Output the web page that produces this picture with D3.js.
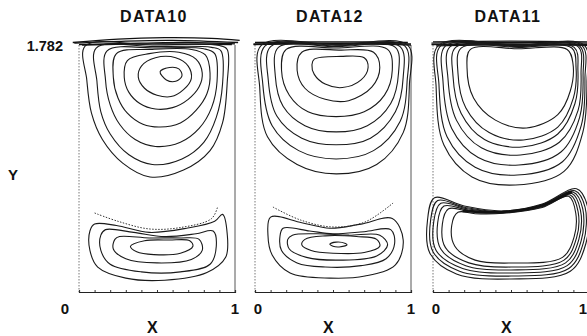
<!DOCTYPE html>
<html>
<head>
<meta charset="utf-8">
<script src="https://cdn.jsdelivr.net/npm/d3@7"></script>
<style>
  body { margin: 0; background: #fff; }
  text { font-family: "Liberation Sans", Arial, sans-serif; fill: #111; }
</style>
</head>
<body>
<svg id="chart" width="587" height="336"></svg>
<script>
// panel titles and axis labels
var titles = ["DATA10", "DATA12", "DATA11"];
var xTicks = [0, 1];
var yMax = 1.782;

// DATA10: upper vortex contours (inner -> outer)
var data10Upper = [
  [[0.52,1.59],[0.56,1.53],[0.62,1.52],[0.66,1.56],[0.64,1.61],[0.58,1.62]],
  [[0.40,1.63],[0.38,1.55],[0.42,1.47],[0.50,1.42],[0.59,1.41],[0.67,1.46],[0.72,1.54],[0.70,1.63],[0.62,1.69],[0.49,1.69]],
  [[0.31,1.67],[0.29,1.55],[0.32,1.44],[0.39,1.36],[0.49,1.32],[0.60,1.33],[0.70,1.39],[0.77,1.48],[0.79,1.58],[0.75,1.68],[0.64,1.73],[0.45,1.72]],
  [[0.24,1.72],[0.22,1.55],[0.25,1.40],[0.31,1.29],[0.41,1.21],[0.52,1.19],[0.65,1.22],[0.75,1.31],[0.82,1.43],[0.84,1.58],[0.81,1.71],[0.72,1.75],[0.47,1.75]],
  [[0.18,1.74],[0.17,1.53],[0.20,1.35],[0.26,1.21],[0.36,1.10],[0.49,1.05],[0.65,1.08],[0.77,1.18],[0.85,1.33],[0.885,1.52],[0.87,1.72],[0.80,1.755],[0.50,1.76]],
  [[0.11,1.76],[0.115,1.52],[0.14,1.30],[0.20,1.14],[0.32,0.99],[0.47,0.92],[0.66,0.96],[0.80,1.08],[0.88,1.26],[0.92,1.50],[0.91,1.74],[0.85,1.765],[0.48,1.77]],
  [[0.04,1.775],[0.05,1.53],[0.08,1.29],[0.15,1.10],[0.28,0.93],[0.455,0.83],[0.67,0.88],[0.84,1.02],[0.92,1.22],[0.95,1.51],[0.95,1.75],[0.90,1.778],[0.47,1.782]]
];
// DATA10: lower vortex contours (outer -> inner)
var data10Lower = [
  [[0.10,0.49],[0.24,0.48],[0.45,0.43],[0.69,0.46],[0.87,0.51],[0.92,0.56],[0.95,0.42],[0.94,0.25],[0.82,0.14],[0.55,0.085],[0.30,0.10],[0.12,0.18],[0.07,0.30],[0.07,0.44]],
  [[0.17,0.45],[0.35,0.43],[0.55,0.40],[0.75,0.42],[0.86,0.44],[0.88,0.33],[0.84,0.20],[0.65,0.145],[0.40,0.145],[0.20,0.20],[0.14,0.30],[0.14,0.41]],
  [[0.26,0.40],[0.45,0.39],[0.65,0.39],[0.77,0.38],[0.79,0.30],[0.72,0.235],[0.50,0.21],[0.30,0.24],[0.22,0.31],[0.23,0.38]],
  [[0.33,0.33],[0.42,0.37],[0.58,0.375],[0.71,0.37],[0.73,0.33],[0.65,0.28],[0.48,0.27],[0.37,0.29]]
];
var data10Dotted = [[0.10,0.57],[0.25,0.51],[0.45,0.455],[0.65,0.465],[0.85,0.53],[0.89,0.62]];
var data10Lid = [
  [[-0.04,1.80],[0.25,1.825],[0.55,1.835],[0.85,1.83],[1.03,1.815]],
  [[-0.03,1.795],[0.30,1.81],[0.60,1.815],[1.02,1.80]],
  [[0.00,1.785],[0.40,1.795],[0.70,1.80],[1.00,1.79]],
  [[0.02,1.782],[0.50,1.79],[0.98,1.785]]
];

// DATA12: upper vortex contours (inner -> outer)
var data12Upper = [
  [[0.38,1.68],[0.55,1.70],[0.70,1.69],[0.725,1.62],[0.68,1.53],[0.56,1.475],[0.45,1.50],[0.38,1.57],[0.365,1.64]],
  [[0.30,1.73],[0.55,1.745],[0.76,1.73],[0.80,1.62],[0.75,1.48],[0.60,1.38],[0.45,1.39],[0.32,1.47],[0.27,1.60]],
  [[0.20,1.75],[0.52,1.76],[0.85,1.75],[0.88,1.60],[0.83,1.42],[0.70,1.30],[0.52,1.265],[0.34,1.30],[0.22,1.42],[0.17,1.60]],
  [[0.15,1.765],[0.52,1.77],[0.90,1.765],[0.92,1.58],[0.87,1.36],[0.72,1.20],[0.52,1.155],[0.32,1.20],[0.18,1.34],[0.13,1.56]],
  [[0.10,1.77],[0.52,1.775],[0.93,1.77],[0.95,1.55],[0.90,1.30],[0.74,1.11],[0.52,1.062],[0.30,1.11],[0.14,1.27],[0.085,1.53]],
  [[0.065,1.775],[0.52,1.78],[0.96,1.775],[0.975,1.52],[0.93,1.23],[0.76,1.02],[0.52,0.96],[0.28,1.02],[0.11,1.20],[0.05,1.50]],
  [[0.04,1.78],[0.52,1.785],[0.98,1.78],[0.99,1.50],[0.95,1.15],[0.78,0.92],[0.52,0.852],[0.27,0.92],[0.08,1.12],[0.03,1.48]]
];
// DATA12: lower vortex contours (outer -> inner)
var data12Lower = [
  [[0.10,0.54],[0.30,0.50],[0.48,0.46],[0.68,0.49],[0.88,0.53],[0.95,0.375],[0.90,0.195],[0.705,0.115],[0.48,0.10],[0.225,0.137],[0.11,0.267],[0.083,0.411]],
  [[0.18,0.46],[0.35,0.44],[0.50,0.42],[0.70,0.435],[0.87,0.45],[0.895,0.35],[0.84,0.24],[0.68,0.19],[0.45,0.18],[0.27,0.21],[0.17,0.30],[0.16,0.40]],
  [[0.24,0.41],[0.40,0.42],[0.60,0.41],[0.80,0.41],[0.85,0.34],[0.78,0.26],[0.55,0.23],[0.33,0.25],[0.22,0.31],[0.21,0.38]],
  [[0.32,0.38],[0.45,0.405],[0.65,0.40],[0.78,0.38],[0.80,0.33],[0.70,0.285],[0.50,0.28],[0.36,0.30],[0.30,0.34]],
  [[0.48,0.345],[0.52,0.36],[0.58,0.35],[0.59,0.34],[0.54,0.325],[0.50,0.33]]
];
var data12Dotted = [[0.115,0.613],[0.29,0.52],[0.50,0.469],[0.705,0.505],[0.885,0.642]];
var data12Lid = [
  [[-0.01,1.79],[0.50,1.795],[1.00,1.79]],
  [[0.00,1.80],[0.50,1.805],[0.98,1.80]],
  [[-0.01,1.785],[0.30,1.79],[0.70,1.79],[1.00,1.782]]
];

// DATA11: upper vortex contours (inner -> outer)
var data11Upper = [
  [[0.24,1.75],[0.55,1.755],[0.86,1.75],[0.897,1.65],[0.88,1.45],[0.80,1.28],[0.60,1.183],[0.40,1.24],[0.26,1.40],[0.218,1.62]],
  [[0.18,1.76],[0.55,1.765],[0.89,1.76],[0.917,1.62],[0.90,1.40],[0.80,1.19],[0.58,1.097],[0.36,1.15],[0.21,1.33],[0.16,1.58]],
  [[0.145,1.765],[0.55,1.77],[0.905,1.765],[0.929,1.60],[0.91,1.36],[0.80,1.14],[0.57,1.046],[0.33,1.10],[0.18,1.29],[0.128,1.56]],
  [[0.11,1.77],[0.55,1.773],[0.93,1.77],[0.949,1.58],[0.93,1.31],[0.81,1.08],[0.56,0.988],[0.31,1.04],[0.15,1.24],[0.096,1.54]],
  [[0.08,1.775],[0.55,1.777],[0.94,1.775],[0.962,1.56],[0.94,1.26],[0.82,1.01],[0.55,0.916],[0.29,0.97],[0.12,1.18],[0.064,1.52]],
  [[0.05,1.778],[0.55,1.78],[0.955,1.778],[0.974,1.54],[0.95,1.20],[0.83,0.94],[0.54,0.844],[0.27,0.90],[0.09,1.12],[0.038,1.50]],
  [[0.035,1.78],[0.55,1.782],[0.97,1.78],[0.987,1.52],[0.96,1.15],[0.84,0.87],[0.53,0.772],[0.25,0.83],[0.07,1.06],[0.02,1.48]]
];
// DATA11: lower vortex contours (outer -> inner)
var data11Lower = [
  [[0.01,0.68],[0.20,0.62],[0.45,0.585],[0.70,0.635],[0.92,0.745],[0.99,0.62],[0.98,0.35],[0.88,0.15],[0.50,0.094],[0.15,0.13],[-0.02,0.28],[-0.035,0.52]],
  [[0.03,0.66],[0.21,0.61],[0.45,0.58],[0.70,0.63],[0.91,0.73],[0.975,0.61],[0.965,0.36],[0.87,0.17],[0.50,0.115],[0.17,0.15],[0.00,0.29],[-0.015,0.52]],
  [[0.05,0.64],[0.22,0.60],[0.45,0.578],[0.70,0.625],[0.90,0.72],[0.96,0.60],[0.95,0.37],[0.86,0.19],[0.50,0.137],[0.19,0.17],[0.02,0.30],[0.005,0.51]],
  [[0.07,0.62],[0.23,0.59],[0.45,0.575],[0.70,0.62],[0.89,0.71],[0.945,0.59],[0.935,0.38],[0.85,0.21],[0.50,0.159],[0.21,0.19],[0.05,0.31],[0.03,0.50]],
  [[0.10,0.60],[0.24,0.58],[0.45,0.572],[0.70,0.615],[0.88,0.70],[0.93,0.58],[0.92,0.39],[0.84,0.23],[0.50,0.18],[0.23,0.21],[0.08,0.32],[0.06,0.49]],
  [[0.16,0.575],[0.27,0.565],[0.45,0.568],[0.70,0.61],[0.87,0.69],[0.915,0.57],[0.905,0.40],[0.83,0.25],[0.50,0.209],[0.27,0.23],[0.14,0.33],[0.12,0.48]]
];
var data11Band = [[0.19,0.585],[0.45,0.578],[0.70,0.625],[0.89,0.725]];
var data11Lid = [
  [[-0.01,1.785],[0.50,1.79],[1.01,1.785]],
  [[-0.01,1.795],[0.50,1.80],[1.01,1.795]],
  [[0.00,1.805],[0.50,1.81],[1.00,1.805]],
  [[0.02,1.775],[0.50,1.785],[0.99,1.78]]
];

var panels = [
  { title: titles[0], left: 79,  upper: data10Upper, lower: data10Lower, dotted: data10Dotted, lid: data10Lid, labelDx: [-14, 0] },
  { title: titles[1], left: 255, upper: data12Upper, lower: data12Lower, dotted: data12Dotted, lid: data12Lid, labelDx: [3, 0] },
  { title: titles[2], left: 433, upper: data11Upper, lower: data11Lower, band: data11Band, lid: data11Lid, labelDx: [3, -6] }
];

var panelWidth = 156, plotTop = 45, plotBottom = 292;
var svg = d3.select('#chart');

var y = d3.scaleLinear().domain([0, yMax]).range([plotBottom, plotTop]);

panels.forEach(function(p) {
  var x = d3.scaleLinear().domain([0, 1]).range([p.left, p.left + panelWidth]);
  var g = svg.append('g');

  var closed = d3.line().x(d => x(d[0])).y(d => y(d[1])).curve(d3.curveCatmullRomClosed.alpha(0.5));
  var open = d3.line().x(d => x(d[0])).y(d => y(d[1])).curve(d3.curveCatmullRom.alpha(0.5));

  // frame: dotted sides
  g.append('line')
    .attr('x1', x(0)).attr('x2', x(0)).attr('y1', y(yMax)).attr('y2', y(0))
    .attr('stroke', '#555').attr('stroke-width', 0.8).attr('stroke-dasharray', '1.5,1.5');
  g.append('line')
    .attr('x1', x(1)).attr('x2', x(1)).attr('y1', y(yMax)).attr('y2', y(0))
    .attr('stroke', '#444').attr('stroke-width', 0.9);

  // bottom axis with small ticks
  var axis = d3.axisBottom(x).tickValues(d3.range(0, 1.001, 0.1)).tickSize(-2).tickFormat('');
  g.append('g')
    .attr('transform', `translate(0 ${y(0)})`)
    .call(axis)
    .call(s => s.select('.domain').attr('stroke', '#222').attr('stroke-width', 1.2))
    .call(s => s.selectAll('.tick line').attr('stroke', '#333'));

  // tick labels
  g.selectAll('.xlab')
    .data(xTicks)
    .enter()
    .append('text')
    .attr('x', (d, i) => x(d) + p.labelDx[i])
    .attr('y', 314)
    .attr('text-anchor', 'middle')
    .attr('font-size', 15)
    .attr('font-weight', 'bold')
    .text(d => d);

  g.append('text')
    .attr('x', x(0.47)).attr('y', 333)
    .attr('text-anchor', 'middle')
    .attr('font-size', 16)
    .attr('font-weight', 'bold')
    .text('X');

  g.append('text')
    .attr('x', x(0.48)).attr('y', 22)
    .attr('text-anchor', 'middle')
    .attr('font-size', 16)
    .attr('letter-spacing', 1.3)
    .attr('font-weight', 'bold')
    .text(p.title);

  // lid lines at the top
  g.selectAll('.lid')
    .data(p.lid)
    .enter()
    .append('path')
    .attr('d', open)
    .attr('fill', 'none')
    .attr('stroke', '#111')
    .attr('stroke-width', 1.3);

  // contours
  g.selectAll('.up')
    .data(p.upper)
    .enter()
    .append('path')
    .attr('d', closed)
    .attr('fill', 'none')
    .attr('stroke', '#1a1a1a')
    .attr('stroke-width', 1.1);

  g.selectAll('.low')
    .data(p.lower)
    .enter()
    .append('path')
    .attr('d', closed)
    .attr('fill', 'none')
    .attr('stroke', '#1a1a1a')
    .attr('stroke-width', 1.1);

  if (p.dotted) {
    g.append('path')
      .attr('d', open(p.dotted))
      .attr('fill', 'none')
      .attr('stroke', '#333')
      .attr('stroke-width', 1)
      .attr('stroke-dasharray', '1.5,1.5');
  }
  if (p.band) {
    g.append('path')
      .attr('d', open(p.band))
      .attr('fill', 'none')
      .attr('stroke', '#111')
      .attr('stroke-width', 2.5);
  }
});

// y axis labels
svg.append('text')
  .attr('x', 63).attr('y', 51)
  .attr('text-anchor', 'end')
  .attr('font-size', 14.5)
  .attr('font-weight', 'bold')
  .text(yMax);

svg.append('text')
  .attr('x', 13).attr('y', 180)
  .attr('text-anchor', 'middle')
  .attr('font-size', 15)
  .attr('font-weight', 'bold')
  .text('Y');
</script>
</body>
</html>
